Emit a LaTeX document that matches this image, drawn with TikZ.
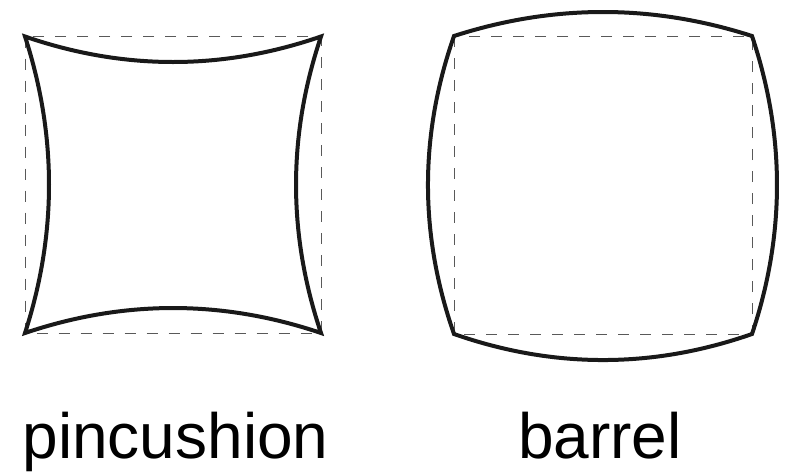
\documentclass[tikz,border=0pt]{standalone}
\usepackage{fontspec}
\setmainfont{Liberation Sans}
\begin{document}
\begin{tikzpicture}[x=1pt,y=-1pt,
  guide/.style={draw=black!65,line width=1pt,dash pattern=on 11pt off 11pt},
  outline/.style={draw=black!90,line width=4pt,line join=miter},
  caption/.style={font=\fontsize{64}{70}\selectfont,anchor=base,inner sep=0pt}]
\useasboundingbox (0,0) rectangle (787,472);
% pincushion
\coordinate (p1) at (25,36.5);
\coordinate (p2) at (321,36.5);
\coordinate (p3) at (321,333);
\coordinate (p4) at (25,333);
\draw[guide] (p1) rectangle (p3);
\draw[outline] (p1) .. controls (123.7,70.5) and (222.3,70.5) .. (p2)
  .. controls (287.7,135.3) and (287.7,234.2) .. (p3)
  .. controls (222.3,299.7) and (123.7,299.7) .. (p4)
  .. controls (57,234.2) and (57,135.3) .. cycle;
% barrel
\coordinate (b1) at (454,36);
\coordinate (b2) at (752,36);
\coordinate (b3) at (752,334);
\coordinate (b4) at (454,334);
\draw[guide] (b1) rectangle (b3);
\draw[outline] (b1) .. controls (553.3,4) and (652.7,4) .. (b2)
  .. controls (785.3,135.3) and (785.3,234.7) .. (b3)
  .. controls (652.7,368.7) and (553.3,368.7) .. (b4)
  .. controls (419.3,234.7) and (419.3,135.3) .. cycle;
\node[caption] (lp) at (175.5,458) {pincushion};
\node[caption] (lb) at (600,458) {barrel};
\end{tikzpicture}
\end{document}
